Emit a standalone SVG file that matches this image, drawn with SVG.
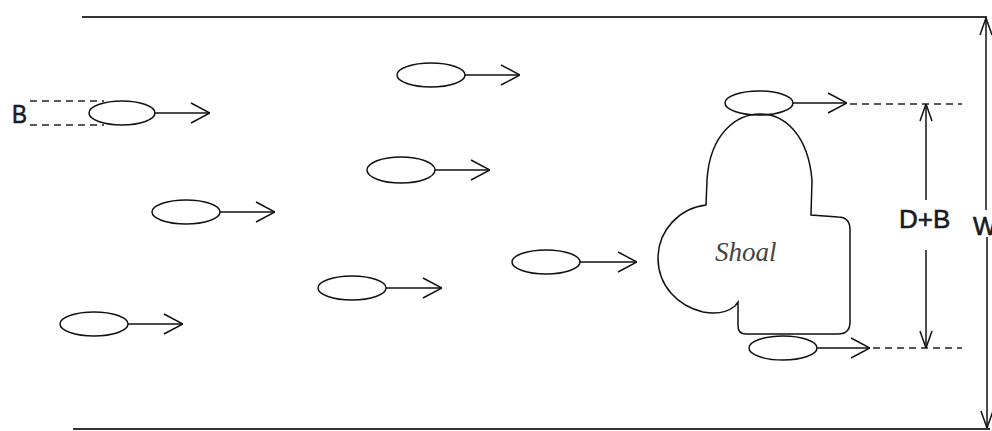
<svg xmlns="http://www.w3.org/2000/svg" width="992" height="431" viewBox="0 0 992 431">
<style>
.fish{fill:none;stroke:#111;stroke-width:1.5}
.mv{fill:none;stroke:#111;stroke-width:1.5;marker-end:url(#open)}
.bank{fill:none;stroke:#333;stroke-width:2}
.dash{fill:none;stroke:#222;stroke-width:1.5;stroke-dasharray:7 5}
.dim{fill:none;stroke:#111;stroke-width:1.5;marker-end:url(#dimA)}
.lbl{font-family:"Liberation Sans",Arial,sans-serif;fill:#1a1a22;stroke:#1a1a22;stroke-width:0.6}
</style>
<defs>
<marker id="open" viewBox="0 0 20 22" refX="20" refY="11" markerWidth="20" markerHeight="22" markerUnits="userSpaceOnUse" orient="auto">
<path d="M1,1 L20,11 L1,21" fill="none" stroke="#111" stroke-width="1.5"/>
</marker>
<marker id="dimA" viewBox="0 0 18 14" refX="18" refY="7" markerWidth="18" markerHeight="14" markerUnits="userSpaceOnUse" orient="auto">
<path d="M1,1 L18,7 L1,13" fill="none" stroke="#111" stroke-width="1.5"/>
</marker>
</defs>

<g id="channel">
<line class="bank" x1="82" y1="17" x2="987" y2="17"/>
<line class="bank" x1="73" y1="429" x2="990" y2="429"/>
</g>

<g id="shoal">
<path class="fish" d="M706 205 L707 180 C710 132 738 114 760 114 C784 114 808 134 812 180 L811 215 L838 217 Q850 217 850 230 L850 322 Q850 334 838 334 L746 334 Q738 334 738 326 L738 302 L735 306 C725 314 713 314 703 312 C678 306 658 286 658 258 C658 230 680 208 706 205 Z"/>
<text x="715" y="261" font-family="'Liberation Serif','Times New Roman',serif" font-style="italic" font-size="27" fill="#444">Shoal</text>
</g>

<g id="fish1"><ellipse class="fish" cx="122" cy="113" rx="33" ry="12"/></g>
<g id="fish2"><ellipse class="fish" cx="431" cy="75" rx="34" ry="12"/></g>
<g id="fish3"><ellipse class="fish" cx="401" cy="170" rx="34" ry="13"/></g>
<g id="fish4"><ellipse class="fish" cx="352" cy="288" rx="34" ry="12"/></g>
<g id="fish5"><ellipse class="fish" cx="186" cy="212" rx="34" ry="12"/></g>
<g id="fish6"><ellipse class="fish" cx="94" cy="324" rx="34" ry="12"/></g>
<g id="fish7"><ellipse class="fish" cx="546" cy="262" rx="34" ry="12"/></g>
<g id="fish8"><ellipse class="fish" cx="759" cy="103" rx="34" ry="12"/></g>
<g id="fish9"><ellipse class="fish" cx="783" cy="348" rx="34" ry="12"/></g>

<g id="labels">
<text class="lbl" x="12" y="123" font-size="26" textLength="15" lengthAdjust="spacingAndGlyphs">B</text>
<text class="lbl" x="899" y="228" font-size="26">D+B</text>
<text class="lbl" x="973" y="235" font-size="25">W</text>
</g>

<g id="connectors">
<line class="mv" x1="155" y1="113" x2="210" y2="113"/>
<line class="mv" x1="465" y1="75" x2="520" y2="75"/>
<line class="mv" x1="435" y1="170" x2="490" y2="170"/>
<line class="mv" x1="386" y1="288" x2="442" y2="288"/>
<line class="mv" x1="220" y1="212" x2="275" y2="212"/>
<line class="mv" x1="128" y1="324" x2="183" y2="324"/>
<line class="mv" x1="580" y1="262" x2="637" y2="262"/>
<line class="mv" x1="793" y1="103" x2="847" y2="103"/>
<line class="mv" x1="817" y1="348" x2="870" y2="348"/>
<line class="dash" x1="30" y1="101" x2="104" y2="101"/>
<line class="dash" x1="30" y1="125" x2="104" y2="125"/>
<line class="dash" x1="850" y1="104" x2="962" y2="104"/>
<line class="dash" x1="873" y1="348" x2="962" y2="348"/>
<line class="dim" x1="926" y1="200" x2="926" y2="104"/>
<line class="dim" x1="926" y1="250" x2="926" y2="348"/>
<line class="dim" x1="986" y1="210" x2="986" y2="18"/>
<line class="dim" x1="987" y1="237" x2="987" y2="428"/>
</g>
</svg>
